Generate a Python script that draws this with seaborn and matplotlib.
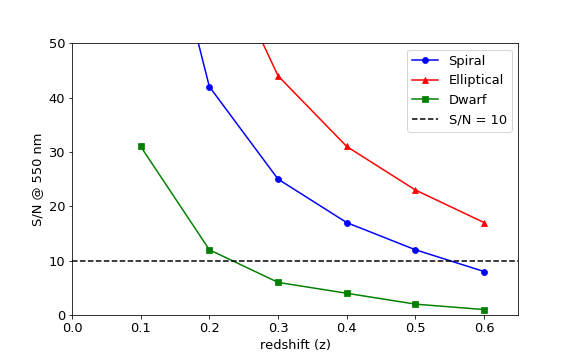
import matplotlib
matplotlib.use("Agg")
import matplotlib.pyplot as plt
import seaborn as sns
import pandas as pd

z_spiral = [0.1, 0.2, 0.3, 0.4, 0.5, 0.6]
sn_spiral = [92, 42, 25, 17, 12, 8]
z_elliptical = [0.2, 0.3, 0.4, 0.5, 0.6]
sn_elliptical = [71, 44, 31, 23, 17]
z_dwarf = [0.1, 0.2, 0.3, 0.4, 0.5, 0.6]
sn_dwarf = [31, 12, 6, 4, 2, 1]
threshold = 10

plt.rcParams['font.family'] = ['DejaVu Sans']
plt.rcParams['font.size'] = 13

fig = plt.figure(figsize=(8, 5), dpi=72)
ax = fig.add_axes([0.125, 0.125, 0.775, 0.755])

sns.lineplot(x=z_spiral, y=sn_spiral, ax=ax, color='blue', marker='o',
             markersize=6, markeredgecolor='blue', label='Spiral', linewidth=1.5)
sns.lineplot(x=z_elliptical, y=sn_elliptical, ax=ax, color='red', marker='^',
             markersize=6, markeredgecolor='red', label='Elliptical', linewidth=1.5)
sns.lineplot(x=z_dwarf, y=sn_dwarf, ax=ax, color='green', marker='s',
             markersize=6, markeredgecolor='green', label='Dwarf', linewidth=1.5)
ax.axhline(threshold, color='black', linestyle='--', linewidth=1.5, label='S/N = 10')

ax.set_xlim(0, 0.65)
ax.set_ylim(0, 50)
ax.set_xlabel('redshift (z)', fontsize=13)
ax.set_ylabel('S/N @ 550 nm', fontsize=13)
ax.tick_params(labelsize=13)
ax.legend(loc='upper right', fontsize=13)

fig.savefig('out.png', dpi=72)
